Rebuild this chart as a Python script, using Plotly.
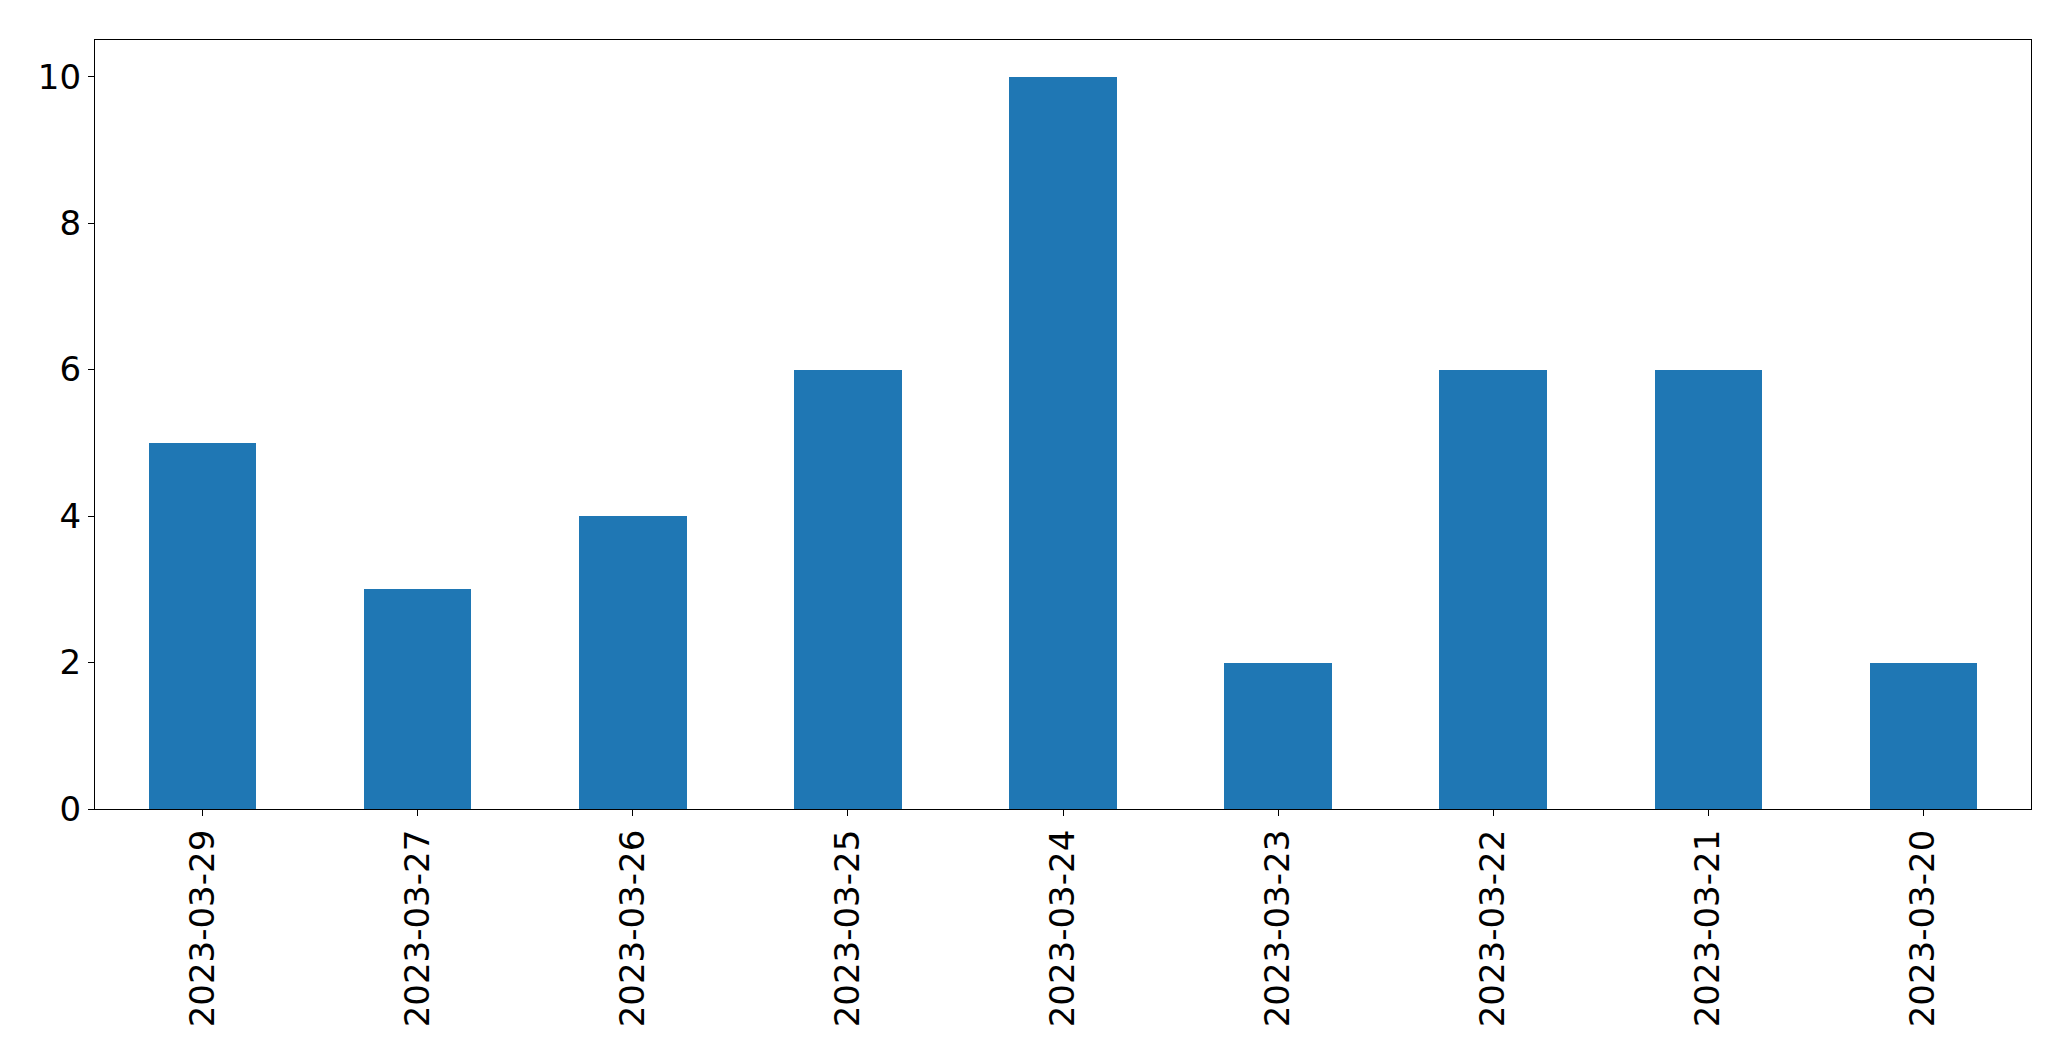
import plotly.graph_objects as go

dates = ["2023-03-29", "2023-03-27", "2023-03-26", "2023-03-25", "2023-03-24",
         "2023-03-23", "2023-03-22", "2023-03-21", "2023-03-20"]
counts = [5, 3, 4, 6, 10, 2, 6, 6, 2]

fig = go.Figure(go.Bar(x=list(range(len(dates))), y=counts, width=0.5,
                       marker=dict(color="#1f77b4", line=dict(width=0))))

font = dict(family="DejaVu Sans", size=34, color="black")
fig.update_layout(
    width=2071, height=1061,
    margin=dict(l=86.5, r=47.5, t=31.5, b=259.7, pad=0),
    plot_bgcolor="white", paper_bgcolor="white",
    showlegend=False, font=font,
    bargap=0,
)
fig.update_xaxes(range=[-0.5, len(dates) - 0.5], tickmode="array",
                 tickvals=list(range(len(dates))), ticktext=dates,
                 tickangle=-90, showline=True, linecolor="black", linewidth=1.3,
                 mirror=True, ticks="outside", ticklen=6, tickwidth=1.3,
                 tickcolor="black", showgrid=False, zeroline=False,
                 tickfont=font)
fig.update_yaxes(range=[0, 10.5], tickvals=[0, 2, 4, 6, 8, 10],
                 showline=True, linecolor="black", linewidth=1.3,
                 mirror=True, ticks="outside", ticklen=6, tickwidth=1.3,
                 tickcolor="black", showgrid=False, zeroline=False,
                 tickfont=font)

fig.write_html("out.html")
